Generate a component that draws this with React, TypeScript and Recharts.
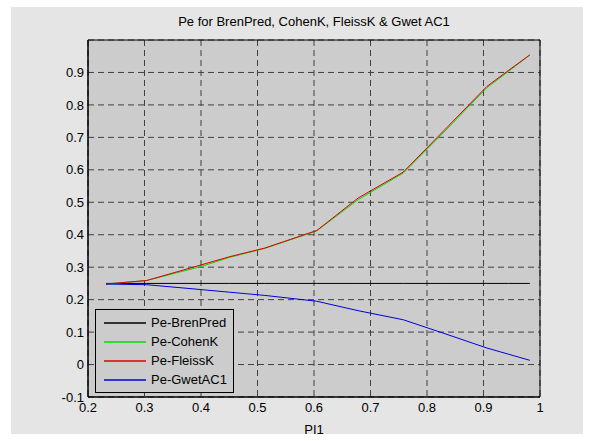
import React from 'react'
import { LineChart, Line, XAxis, YAxis, CartesianGrid, Legend, ReferenceArea } from 'recharts'

const pl1 = [0.232, 0.304, 0.4, 0.45, 0.513, 0.605, 0.678, 0.758, 0.83, 0.906, 0.944, 0.982]
const brenPred = [0.25, 0.25, 0.25, 0.25, 0.25, 0.25, 0.25, 0.25, 0.25, 0.25, 0.25, 0.25]
const cohenK = [0.248, 0.259, 0.302, 0.33, 0.358, 0.412, 0.508, 0.59, 0.716, 0.853, 0.903, 0.954]
const fleissK = [0.248, 0.259, 0.307, 0.332, 0.359, 0.413, 0.513, 0.593, 0.721, 0.857, 0.906, 0.954]
const gwetAC1 = [0.248, 0.246, 0.231, 0.223, 0.213, 0.195, 0.166, 0.138, 0.096, 0.051, 0.032, 0.013]

const seriesNames = ['Pe-BrenPred', 'Pe-CohenK', 'Pe-FleissK', 'Pe-GwetAC1']
const seriesKeys = ['bren', 'cohen', 'fleiss', 'gwet']
const seriesColors = ['#000000', '#00dd00', '#e00000', '#0000e0']

const xTicks = [0.2, 0.3, 0.4, 0.5, 0.6, 0.7, 0.8, 0.9, 1]
const yTicks = [-0.1, 0, 0.1, 0.2, 0.3, 0.4, 0.5, 0.6, 0.7, 0.8, 0.9]

const font = 'Arial, "Liberation Sans", Helvetica, sans-serif'

const data = pl1.map((x, i) => ({
  x,
  bren: brenPred[i],
  cohen: cohenK[i],
  fleiss: fleissK[i],
  gwet: gwetAC1[i],
}))

const renderLegend = () => (
  <div style={{ width: 137, height: 79, border: '1px solid #000', background: '#cccccc', paddingTop: 3, fontFamily: font, fontSize: 13, color: '#000', boxSizing: 'content-box' }}>
    {seriesNames.map((name, i) => (
      <div key={name} style={{ height: 19, display: 'flex', alignItems: 'center' }}>
        <svg width={42} height={4} style={{ marginLeft: 8, display: 'block' }}>
          <line x1={0} y1={2} x2={42} y2={2} stroke={seriesColors[i]} strokeWidth={1.6} />
        </svg>
        <span style={{ marginLeft: 5 }}>{name}</span>
      </div>
    ))}
  </div>
)

export default function App() {
  return (
    <div style={{ position: 'absolute', left: 0, top: 0, width: 593, height: 441, background: '#fff' }}>
      <div style={{ position: 'absolute', left: 11, top: 7, width: 572, height: 427, background: '#e5e5e5' }} />
      <div style={{ position: 'absolute', left: 88, width: 452, top: 14, textAlign: 'center', fontFamily: font, fontSize: 13, color: '#000' }}>
        Pe for BrenPred, CohenK, FleissK &amp; Gwet AC1
      </div>
      <div style={{ position: 'absolute', left: 0, top: 0 }}>
        <LineChart width={593} height={441} data={data} margin={{ top: 40, right: 53, bottom: 0, left: 28 }}>
          <CartesianGrid fill="#cccccc" stroke="#404040" strokeDasharray="6 4" />
          <XAxis
            dataKey="x"
            type="number"
            domain={[0.2, 1]}
            ticks={xTicks}
            height={44}
            tickLine={false}
            tickSize={4}
            axisLine={{ stroke: '#000' }}
            tick={{ fill: '#000', fontSize: 13, fontFamily: font }}
            label={{ value: 'PI1', position: 'insideBottom', offset: 7, fill: '#000', fontSize: 13, fontFamily: font }}
          />
          <XAxis
            xAxisId="top"
            orientation="top"
            dataKey="x"
            type="number"
            domain={[0.2, 1]}
            ticks={xTicks}
            height={0}
            mirror
            tick={false}
            tickSize={4}
            axisLine={false}
            tickLine={{ stroke: '#000' }}
          />
          <YAxis
            type="number"
            domain={[-0.1, 1]}
            ticks={yTicks}
            width={60}
            tickLine={false}
            tickSize={3}
            tickMargin={1}
            axisLine={{ stroke: '#000' }}
            tick={{ fill: '#000', fontSize: 13, fontFamily: font }}
            tickFormatter={(v) => String(v)}
          />
          <YAxis
            yAxisId="right"
            orientation="right"
            type="number"
            domain={[-0.1, 1]}
            ticks={yTicks}
            width={0}
            mirror
            tick={false}
            tickSize={4}
            axisLine={false}
            tickLine={{ stroke: '#000' }}
          />
          <ReferenceArea x1={0.2} x2={1} y1={-0.1} y2={1} fill="none" stroke="#000" strokeWidth={1} />
          {seriesKeys.map((k, i) => (
            <Line
              key={k}
              type="linear"
              dataKey={k}
              name={seriesNames[i]}
              stroke={seriesColors[i]}
              strokeWidth={1}
              dot={false}
              isAnimationActive={false}
            />
          ))}
          <Legend
            layout="vertical"
            verticalAlign="middle"
            align="center"
            wrapperStyle={{ left: 95, top: 309, width: 'auto' }}
            content={renderLegend}
          />
        </LineChart>
      </div>
    </div>
  )
}
